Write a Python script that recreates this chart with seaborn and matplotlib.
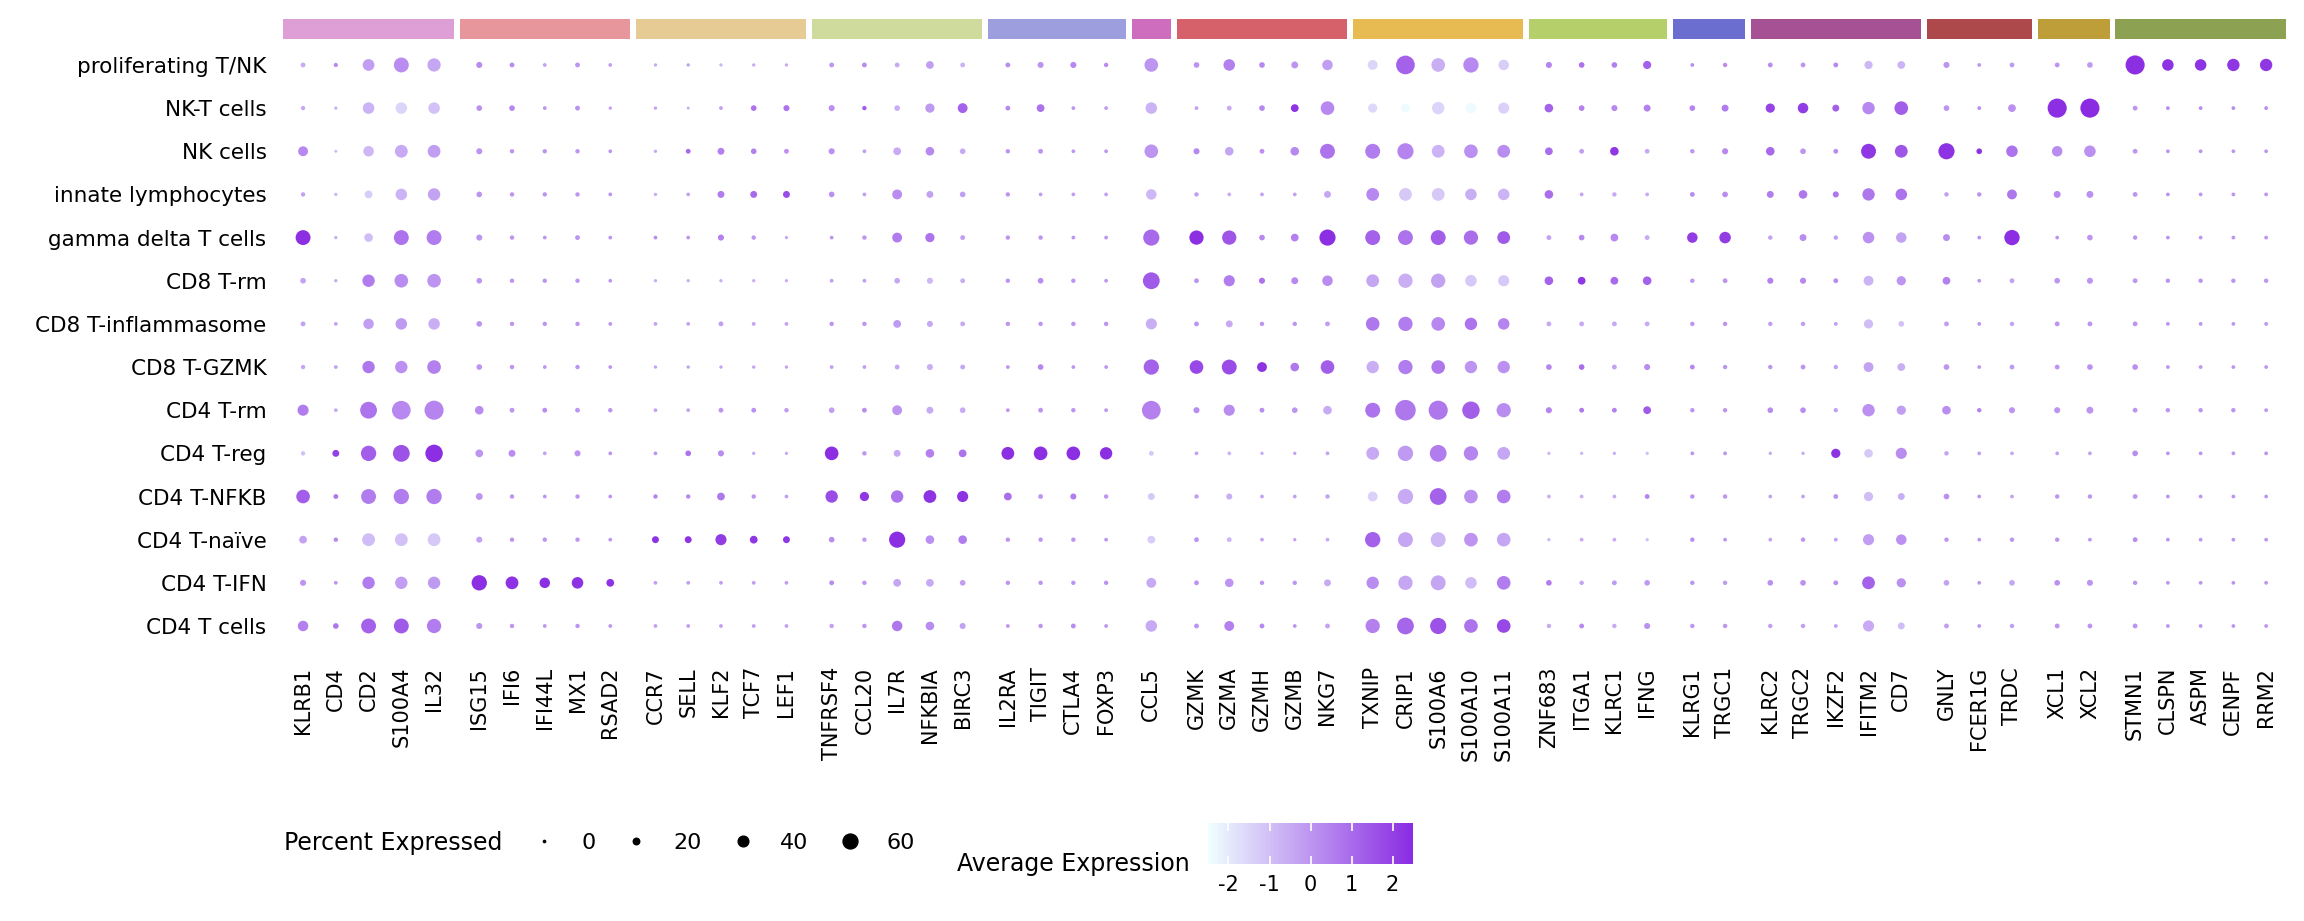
import numpy as np
import pandas as pd
import matplotlib
matplotlib.use('Agg')
import matplotlib.pyplot as plt
from matplotlib.colors import LinearSegmentedColormap, Normalize
from matplotlib.cm import ScalarMappable
from matplotlib.lines import Line2D
import seaborn as sns

# marker genes, one list per block (drawn as a coloured bar on top)
gene_groups = [
    ['KLRB1', 'CD4', 'CD2', 'S100A4', 'IL32'],
    ['ISG15', 'IFI6', 'IFI44L', 'MX1', 'RSAD2'],
    ['CCR7', 'SELL', 'KLF2', 'TCF7', 'LEF1'],
    ['TNFRSF4', 'CCL20', 'IL7R', 'NFKBIA', 'BIRC3'],
    ['IL2RA', 'TIGIT', 'CTLA4', 'FOXP3'],
    ['CCL5'],
    ['GZMK', 'GZMA', 'GZMH', 'GZMB', 'NKG7'],
    ['TXNIP', 'CRIP1', 'S100A6', 'S100A10', 'S100A11'],
    ['ZNF683', 'ITGA1', 'KLRC1', 'IFNG'],
    ['KLRG1', 'TRGC1'],
    ['KLRC2', 'TRGC2', 'IKZF2', 'IFITM2', 'CD7'],
    ['GNLY', 'FCER1G', 'TRDC'],
    ['XCL1', 'XCL2'],
    ['STMN1', 'CLSPN', 'ASPM', 'CENPF', 'RRM2'],
]
group_colors = ['#de9ed6', '#e7969c', '#e7cb94', '#cedb9c', '#9c9ede', '#ce6dbd', '#d6616b',
                '#e7ba52', '#b5cf6b', '#6b6ecf', '#a55194', '#ad494a', '#bd9e39', '#8ca252']

cell_types = ['proliferating T/NK', 'NK-T cells', 'NK cells', 'innate lymphocytes',
              'gamma delta T cells', 'CD8 T-rm', 'CD8 T-inflammasome', 'CD8 T-GZMK',
              'CD4 T-rm', 'CD4 T-reg', 'CD4 T-NFKB', 'CD4 T-naïve', 'CD4 T-IFN', 'CD4 T cells']

# percent of cells expressing each gene (rows follow cell_types, columns follow genes)
pct_expressed = [
    [12, 9, 45, 60, 52, 18, 12, 7, 12, 7, 5, 5, 5, 5, 5, 12, 12, 12, 26, 12, 12, 18, 18, 10, 54,
     16, 44, 16, 22, 39, 36, 78, 54, 62, 39, 18, 16, 16, 28, 7, 10, 12, 12, 12, 28, 26, 18, 7, 12, 12, 16, 80, 44, 44, 48, 48],
    [10, 5, 44, 44, 44, 16, 16, 7, 12, 5, 5, 3, 7, 16, 18, 18, 10, 16, 33, 36, 12, 26, 7, 7, 44,
     7, 12, 16, 26, 54, 33, 30, 48, 39, 42, 30, 16, 18, 22, 16, 22, 33, 39, 22, 48, 54, 16, 7, 26, 80, 80, 12, 7, 7, 7, 7],
    [36, 3, 39, 50, 50, 18, 10, 10, 10, 7, 5, 12, 22, 16, 12, 18, 7, 26, 30, 16, 10, 12, 7, 7, 54,
     18, 30, 12, 30, 60, 60, 66, 50, 54, 50, 26, 12, 30, 12, 10, 18, 30, 16, 12, 60, 50, 66, 16, 44, 39, 44, 12, 7, 7, 7, 7],
    [10, 5, 26, 44, 48, 16, 10, 10, 10, 7, 5, 7, 22, 22, 22, 16, 7, 36, 22, 16, 10, 7, 7, 7, 39,
     10, 7, 7, 7, 22, 50, 50, 50, 44, 44, 30, 7, 10, 7, 12, 16, 22, 30, 18, 48, 44, 10, 10, 36, 22, 22, 12, 7, 7, 7, 7],
    [60, 5, 30, 60, 60, 18, 10, 7, 12, 7, 7, 7, 18, 10, 5, 7, 10, 36, 33, 12, 10, 10, 7, 7, 66,
     57, 57, 16, 26, 66, 60, 60, 60, 57, 50, 12, 16, 26, 12, 39, 44, 10, 22, 10, 44, 39, 22, 7, 62, 7, 16, 10, 7, 7, 7, 7],
    [16, 5, 48, 54, 54, 16, 10, 10, 10, 7, 5, 5, 5, 5, 5, 7, 7, 16, 18, 12, 10, 16, 10, 7, 69,
     12, 42, 18, 22, 39, 50, 57, 57, 44, 42, 30, 26, 26, 30, 10, 12, 18, 18, 12, 36, 33, 26, 7, 12, 16, 18, 12, 10, 10, 10, 10],
    [12, 7, 39, 44, 44, 16, 10, 10, 10, 7, 7, 7, 12, 7, 7, 10, 10, 26, 18, 12, 10, 10, 10, 10, 42,
     12, 22, 10, 10, 12, 54, 57, 54, 48, 44, 12, 12, 12, 12, 10, 10, 10, 10, 7, 33, 16, 12, 7, 10, 12, 12, 12, 7, 7, 7, 7],
    [10, 7, 48, 48, 54, 16, 10, 7, 10, 7, 5, 5, 5, 5, 5, 7, 7, 12, 18, 12, 7, 16, 7, 7, 62,
     54, 60, 36, 30, 54, 48, 57, 54, 48, 48, 16, 16, 12, 18, 12, 10, 10, 12, 10, 36, 26, 16, 7, 12, 12, 16, 16, 7, 7, 7, 7],
    [42, 7, 69, 78, 80, 30, 12, 12, 12, 10, 7, 7, 12, 12, 10, 16, 12, 36, 22, 16, 7, 12, 10, 7, 78,
     18, 42, 12, 16, 30, 60, 87, 80, 72, 57, 18, 12, 12, 26, 10, 10, 16, 16, 10, 48, 33, 30, 10, 18, 18, 22, 12, 10, 10, 10, 7],
    [10, 22, 62, 69, 72, 26, 22, 7, 18, 7, 7, 16, 18, 5, 5, 54, 10, 22, 30, 26, 50, 54, 54, 48, 12,
     7, 7, 5, 5, 7, 50, 62, 69, 57, 50, 5, 5, 5, 5, 7, 7, 5, 5, 33, 30, 42, 10, 7, 7, 7, 7, 16, 7, 7, 7, 7],
    [54, 12, 60, 62, 62, 22, 10, 7, 10, 7, 10, 10, 26, 10, 7, 48, 33, 48, 50, 42, 26, 12, 18, 10, 22,
     10, 18, 7, 7, 10, 36, 62, 69, 54, 54, 7, 7, 7, 12, 10, 10, 7, 7, 12, 33, 22, 16, 7, 7, 10, 10, 12, 7, 7, 7, 7],
    [26, 10, 50, 50, 50, 18, 10, 10, 10, 7, 22, 22, 42, 26, 22, 16, 10, 66, 30, 30, 10, 10, 10, 7, 26,
     12, 12, 7, 5, 7, 62, 60, 60, 54, 54, 5, 7, 7, 5, 10, 7, 7, 10, 7, 42, 39, 10, 7, 10, 10, 7, 12, 7, 7, 7, 7],
    [18, 7, 48, 48, 48, 62, 50, 39, 44, 26, 7, 7, 7, 7, 7, 12, 10, 26, 26, 16, 10, 10, 10, 10, 36,
     12, 30, 10, 10, 22, 48, 57, 60, 44, 54, 16, 10, 12, 16, 10, 10, 16, 16, 12, 50, 33, 16, 7, 16, 16, 18, 10, 7, 7, 7, 7],
    [39, 16, 60, 60, 57, 18, 10, 7, 10, 7, 7, 7, 7, 7, 7, 10, 10, 39, 30, 18, 7, 10, 12, 7, 44,
     12, 36, 12, 7, 12, 57, 69, 66, 54, 54, 10, 12, 10, 18, 10, 10, 10, 10, 7, 42, 22, 12, 7, 10, 12, 12, 12, 7, 7, 7, 7],
]

# scaled average expression, same layout
avg_expression = [
    [-0.5, 0.3, -0.2, 0.2, -0.4, 0.2, 0.2, -0.3, 0, -0.2, -0.5, -0.3, -0.8, -0.5, -0.5, 0, 0.2, -0.5, -0.2, -0.7,
     0.2, 0, 0.3, 0.2, 0, 0, 0.5, 0.3, 0, -0.2, -1.5, 1.2, -0.6, 0.3, -1.3, 0.4, 0.8, 0.5, 1.2, 0.2, 0.2,
     0.2, 0, 0.3, -0.8, -0.7, 0, 0, -0.1, 0, -0.1, 2.4, 2.3, 2.3, 2.2, 2.2],
    [-0.5, -0.7, -0.7, -1.5, -1.0, 0.1, 0.3, 0, 0.1, -0.2, -0.3, -0.5, -0.2, 0.8, 0.8, 0.1, 1.3, -0.6, -0.1, 1.2,
     0.3, 0.8, 0, -0.1, -0.7, -0.3, -0.5, 0.3, 2.3, 0.3, -1.6, -2.4, -1.5, -2.4, -1.4, 1.2, 0.5, 0.3, 0.5, 0.4, 0.6,
     1.9, 2.1, 1.3, 0.3, 1.3, 0, 0.2, 0.1, 2.4, 2.5, 0, 0.2, 0.2, 0.2, 0.2],
    [0.3, -0.8, -0.8, -0.5, -0.2, 0, 0, 0, 0, 0, -0.5, 1.0, 0.5, 0.5, 0.1, 0.1, -0.2, -0.5, 0.3, -0.5,
     0, 0, 0, 0, 0, 0.3, -0.4, 0.1, 0.3, 0.8, 0.6, 0.4, -0.7, 0.1, 0.2, 0.9, -0.2, 2.2, -0.5, 0, 0.3,
     1.0, 0, 0.2, 2.2, 1.5, 2.3, 2.3, 0.8, 0.2, 0.1, 0, 0, 0, 0, 0],
    [-0.3, -0.8, -1.3, -0.7, -0.3, 0, 0, 0, 0, 0, -0.5, -0.3, 0.6, 1.0, 1.7, 0.1, -0.2, 0.2, -0.3, -0.2,
     0, -0.2, -0.2, -0.2, -0.8, -0.2, -0.6, -0.3, -0.3, -0.4, 0.3, -1.2, -1.2, -0.6, -0.7, 0.9, -0.3, -0.5, -0.5, 0.2, 0.2,
     0.6, 0.7, 0.7, 0.7, 0.8, -0.2, 0, 0.7, 0.3, 0.1, 0, 0, 0, 0, 0],
    [2.4, -0.6, -0.9, 0.8, 0.6, 0, 0, 0, 0, 0, 0.2, 0, 0.5, 0, -0.5, 0, 0, 0.6, 0.8, -0.2,
     0, 0, 0, 0, 1.0, 2.4, 1.5, 0.3, 0.5, 2.4, 1.2, 0.8, 1.3, 0.9, 1.4, -0.3, 0.3, 0.3, -0.5, 2.1, 2.1,
     -0.3, 0.2, -0.2, 0.1, -0.3, 0.2, 0, 2.4, 0, 0, 0, 0, 0, 0, 0],
    [-0.3, -0.5, 0.6, 0.2, 0, 0, 0, 0, 0, 0, -0.6, -0.6, -0.6, -0.6, -0.6, -0.2, -0.2, -0.4, -0.8, -0.6,
     0, 0.2, 0, 0, 1.4, 0, 0.6, 0.8, 0.3, 0.2, -0.4, -0.6, -0.3, -1.2, -1.2, 1.2, 2.2, 1.0, 1.2, 0, 0,
     0.5, 0.3, 0.2, -0.7, 0, 0.5, 0, -0.3, 0, 0, 0, 0, 0, 0, 0],
    [-0.3, -0.3, -0.2, -0.1, -0.6, 0, 0, 0, 0, 0, -0.3, -0.3, -0.2, -0.3, -0.3, 0, 0, -0.1, -0.5, -0.5,
     0, 0, 0, 0, -0.6, 0, -0.5, 0, 0, -0.2, 0.7, 0.6, 0.3, 0.8, 0.4, -0.5, -0.5, -0.5, -0.5, 0, 0,
     -0.2, -0.2, -0.2, -0.9, -1.0, -0.2, 0, -0.3, 0, 0, 0, 0, 0, 0, 0],
    [-0.4, -0.3, 0.7, 0.1, 0.5, 0, 0, 0, 0, 0, -0.3, -0.3, -0.3, -0.3, -0.3, -0.2, -0.2, -0.4, -0.6, -0.4,
     0, 0.3, 0, 0, 1.2, 1.8, 1.7, 2.3, 0.7, 1.3, -0.6, 0.6, 0.7, 0, 0.1, 0.4, 0.9, -0.3, 0.2, 0.3, 0,
     0, 0, -0.3, -0.3, -0.6, 0, 0, -0.1, 0, 0.1, 0.1, 0, 0, 0, 0],
    [0.6, -0.5, 0.8, 0.3, 0.4, 0.2, 0, 0.2, 0, 0, -0.3, -0.3, 0, 0.1, -0.1, -0.2, 0.2, 0, -0.5, -0.5,
     0, 0, 0, 0, 0.5, 0.2, 0.2, 0.2, 0, -0.5, 0.8, 0.7, 0.7, 1.3, 0.2, 0.4, 0.7, 0.5, 1.4, 0, 0,
     0.2, 0.2, -0.3, 0.1, -0.2, 0.2, 0.4, 0, 0, 0, 0, 0, 0, 0, 0],
    [-1.0, 2.0, 1.3, 1.6, 2.4, 0, 0.2, -0.3, 0, 0, 0, 0.8, 0.2, -0.5, -0.5, 2.4, 0, -0.5, 0.5, 0.8,
     2.4, 2.4, 2.4, 2.4, -1.2, -0.3, -0.7, -0.5, -0.3, -0.3, -0.5, -0.1, 0.6, 0.4, -0.4, -0.8, -0.8, -0.6, -1.0, 0, 0,
     -0.5, -0.5, 2.3, -1.2, 0.2, -0.3, -0.2, -0.5, -0.3, -0.3, 0.2, 0, 0, 0, 0],
    [1.3, 0.7, 0.6, 0.6, 0.6, 0, 0, 0, 0, 0, 0.4, 0.3, 0.7, 0, -0.2, 1.7, 2.2, 0.8, 2.3, 2.3,
     0.9, 0, 0.6, 0, -1.2, -0.2, -0.6, -0.3, -0.3, -0.3, -1.4, -0.5, 1.2, 0.1, 0.6, -0.6, -0.6, -0.5, 0.4, 0.1, 0,
     -0.3, -0.3, 0, -0.9, -0.6, 0.1, 0, -0.3, 0, 0, 0, 0, 0, 0, 0],
    [-0.3, 0.3, -0.9, -1.0, -1.2, -0.3, 0, 0, 0, 0, 2.3, 2.3, 2.1, 2.2, 2.2, 0.2, -0.1, 2.4, 0.1, 0.6,
     0, 0, 0, 0, -1.3, 0, -0.8, -0.3, -0.3, -0.5, 1.2, -0.4, -0.8, 0, -0.4, -0.8, -0.5, -0.5, -1.0, 0.2, 0,
     -0.3, 0, -0.2, -0.2, 0.1, 0, 0, 0, 0, 0, 0.2, 0, 0, 0, 0],
    [0, 0, 0.6, -0.2, -0.1, 2.4, 2.3, 2.4, 2.3, 2.3, -0.2, -0.2, -0.2, -0.2, -0.2, 0.2, 0, -0.4, -0.5, -0.2,
     0, 0, 0, 0, -0.5, 0, 0, 0, 0, -0.5, 0.2, -0.4, -0.4, -0.9, 0.6, 0.6, -0.3, -0.1, -0.1, 0, -0.1,
     0.1, 0.1, 0.1, 1.2, 0.1, -0.3, 0, -0.4, 0.1, 0, 0, 0, 0, 0, 0],
    [0.5, 0.7, 1.2, 1.4, 0.6, 0, 0, 0, 0, 0, -0.2, -0.2, -0.2, -0.2, -0.2, -0.2, 0, 0.7, 0.2, -0.3,
     0, 0, 0.2, 0, -0.5, 0, 0.5, 0.3, 0, -0.3, 0.5, 1.1, 1.6, 0.8, 1.8, -0.5, 0.3, -0.5, 0.1, 0, 0,
     -0.2, -0.2, -0.2, -0.5, -0.9, -0.2, 0, -0.2, 0, 0, 0, 0, 0, 0, 0],
]

legend_pcts = [0, 20, 40, 60]
cbar_ticks = [-2, -1, 0, 1, 2]

plt.rcParams['font.family'] = ['DejaVu Sans']
plt.rcParams['axes.unicode_minus'] = False

genes = [g for grp in gene_groups for g in grp]
group_idx = [k for k, grp in enumerate(gene_groups) for _ in grp]
gap = 0.38
xpos = [i + gap * k for i, k in enumerate(group_idx)]

records = []
for r, ct in enumerate(cell_types):
    for c, gene in enumerate(genes):
        records.append({'cell': ct, 'row': r, 'gene': gene, 'x': xpos[c],
                        'pct': pct_expressed[r][c], 'avg': avg_expression[r][c]})
df = pd.DataFrame(records)

cmap = LinearSegmentedColormap.from_list('avg_expr', ['#f0ffff', '#8a2be2'])
vmin, vmax = -2.5, 2.5


def dot_area(p):
    # dot diameter grows linearly with percent (radius scaling)
    d_px = 2.3 + 0.21 * p
    return (d_px * 0.72) ** 2


fig = plt.figure(figsize=(23.04, 9.21), dpi=100)
ax = fig.add_axes([0.1223, 0.2969, 0.8705, 0.656])
sns.scatterplot(data=df, x='x', y='row', hue='avg', palette=cmap, hue_norm=(vmin, vmax),
                size='pct', sizes={p: dot_area(p) for p in df['pct'].unique()},
                linewidth=0, legend=False, ax=ax)

ax.set_xlim(-0.65, xpos[-1] + 0.65)
ax.set_ylim(len(cell_types) - 0.5, -0.5)
ax.set_xticks(xpos)
ax.set_xticklabels(genes, rotation=90)
ax.set_yticks(range(len(cell_types)))
ax.set_yticklabels(cell_types)
ax.tick_params(axis='x', length=0, pad=14, labelsize=15)
ax.tick_params(axis='y', length=0, pad=11, labelsize=15.5)
ax.set_xlabel('')
ax.set_ylabel('')
for s in ax.spines.values():
    s.set_visible(False)

# gene block bars
ax_top = fig.add_axes([0.1223, 0.9577, 0.8705, 0.0217])
centers = [np.mean([xpos[genes.index(g)] for g in grp]) for grp in gene_groups]
widths = [len(grp) + 0.2 for grp in gene_groups]
ax_top.bar(centers, 1, width=widths, color=group_colors, linewidth=0)
ax_top.set_xlim(ax.get_xlim())
ax_top.set_ylim(0, 1)
ax_top.axis('off')

# size legend
fig.text(0.1233, 0.0847, 'Percent Expressed', fontsize=17, va='center', ha='left')
handles = [Line2D([], [], linestyle='none', marker='o', color='black',
                  markersize=np.sqrt(dot_area(p))) for p in legend_pcts]
fig.legend(handles, [str(p) for p in legend_pcts], ncol=4, frameon=False,
           loc='center left', bbox_to_anchor=(0.2274, 0.0847), borderaxespad=0,
           fontsize=16, handlelength=1.0, handletextpad=1.17, columnspacing=1.35)

# colour bar
cax = fig.add_axes([0.5243, 0.0619, 0.0890, 0.0445])
cb = fig.colorbar(ScalarMappable(norm=Normalize(vmin, vmax), cmap=cmap), cax=cax,
                  orientation='horizontal')
cb.outline.set_visible(False)
cb.set_ticks(cbar_ticks)
cb.set_ticklabels([str(t) for t in cbar_ticks])
cax.tick_params(axis='x', direction='in', color='white', length=6, width=1.2,
                top=True, bottom=True, labelsize=15, pad=8)
fig.text(0.5165, 0.0619, 'Average Expression', fontsize=17, va='center', ha='right')

fig.savefig('out.png', dpi=100)
